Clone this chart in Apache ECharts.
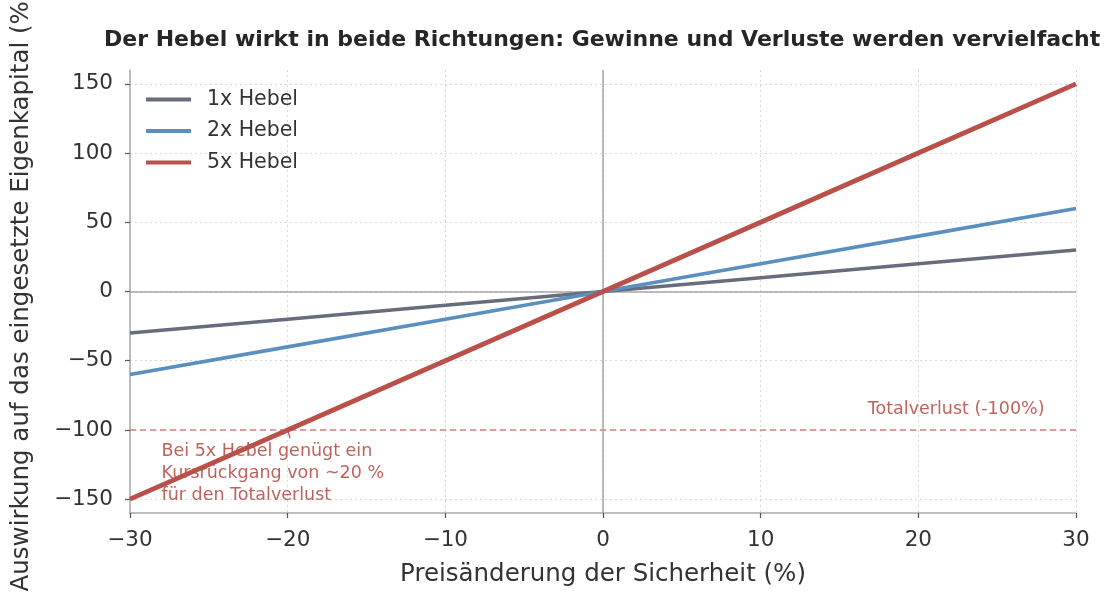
<!DOCTYPE html>
<html>
<head>
<meta charset="utf-8">
<script src="https://cdn.jsdelivr.net/npm/echarts@6/dist/echarts.min.js"></script>
<style>html,body{margin:0;padding:0;background:#fff}#c{width:1113px;height:601px}</style>
</head>
<body>
<div id="c"></div>
<script>
const priceChange = [-30, -20, -10, 0, 10, 20, 30];
const lev1 = [-30, -20, -10, 0, 10, 20, 30];
const lev2 = [-60, -40, -20, 0, 20, 40, 60];
const lev5 = [-150, -100, -50, 0, 50, 100, 150];
const seriesNames = ['1x Hebel', '2x Hebel', '5x Hebel'];
const xTicks = [-30, -20, -10, 0, 10, 20, 30];
const yTicks = [-150, -100, -50, 0, 50, 100, 150];
const totalLoss = -100;
const annoText = 'Bei 5x Hebel genügt ein\nKursrückgang von ~20 %\nfür den Totalverlust';
const annoPos = [-28, -107.5];
const annoTarget = [-20, -100];
const annoTail = [-19.85, -106];
const lossLabel = 'Totalverlust (-100%)';
const lossLabelPos = [28, -92];

const FONT = 'DejaVu Sans';
const RED = '#b9514a';
const fmt = v => String(v).replace('-', '\u2212');
const pairs = arr => priceChange.map((x, i) => [x, arr[i]]);

const chart = echarts.init(document.getElementById('c'), null, {renderer: 'canvas'});
chart.setOption({
  animation: false,
  backgroundColor: '#fff',
  textStyle: {fontFamily: FONT},
  title: {
    text: 'Der Hebel wirkt in beide Richtungen: Gewinne und Verluste werden vervielfacht',
    left: 99, top: 24,
    textStyle: {fontFamily: FONT, fontSize: 22, fontWeight: 'bold', color: '#262626'}
  },
  legend: {
    left: 141, top: 84, orient: 'vertical',
    icon: 'rect', itemWidth: 45, itemHeight: 4, itemGap: 10.5,
    textStyle: {fontFamily: FONT, fontSize: 20.5, color: '#333', padding: [0, 0, 0, 11]},
    data: seriesNames
  },
  grid: {left: 130, right: 37, top: 70, bottom: 88, containLabel: false, outerBoundsMode: 'none'},
  xAxis: {
    type: 'value', min: -30, max: 30, interval: 10,
    name: 'Preisänderung der Sicherheit (%)', nameLocation: 'middle', nameGap: 49,
    nameTextStyle: {fontFamily: FONT, fontSize: 24.5, color: '#333'},
    axisLine: {show: true, onZero: false, lineStyle: {color: '#aaa', width: 1.5}},
    axisTick: {show: true, length: 5, lineStyle: {color: '#555', width: 1.2}},
    axisLabel: {fontFamily: FONT, fontSize: 21.5, color: '#333', margin: 16, formatter: fmt},
    splitLine: {show: true, lineStyle: {color: '#d8d8d8', type: [2, 3], width: 1}}
  },
  yAxis: {
    type: 'value', min: -160, max: 160,
    name: 'Auswirkung auf das eingesetzte Eigenkapital (%)', nameLocation: 'middle', nameGap: 96,
    nameTextStyle: {fontFamily: FONT, fontSize: 24.5, color: '#333'},
    axisLine: {show: true, onZero: false, lineStyle: {color: '#aaa', width: 1.5}},
    axisTick: {show: true, length: 5, customValues: yTicks, lineStyle: {color: '#555', width: 1.2}},
    axisLabel: {fontFamily: FONT, fontSize: 21.5, color: '#333', margin: 17, customValues: yTicks, formatter: fmt},
    splitLine: {show: true, lineStyle: {color: '#d8d8d8', type: [2, 3], width: 1}}
  },
  series: [
    {
      name: seriesNames[0], type: 'line', data: pairs(lev1), symbol: 'none', showSymbol: false, z: 3,
      lineStyle: {color: '#676d7c', width: 3.5}, itemStyle: {color: '#676d7c'},
      markLine: {
        silent: true, symbol: 'none', z: 1, animation: false,
        label: {show: false},
        data: [
          {xAxis: 0, lineStyle: {color: '#a6a6a6', width: 1.5, type: 'solid'}},
          {yAxis: 0, lineStyle: {color: '#a6a6a6', width: 1.5, type: 'solid'}},
          {yAxis: totalLoss, lineStyle: {color: '#d0837d', width: 1.5, type: [6, 4]}}
        ]
      },
      markPoint: {
        silent: true, z: 2, animation: false, symbolSize: 0,
        data: [
          {coord: annoPos, symbol: 'circle', symbolSize: 0,
           label: {show: true, formatter: annoText, position: [0, 0], align: 'left', verticalAlign: 'top',
                   fontFamily: FONT, fontSize: 17.5, lineHeight: 22, color: RED, opacity: 0.9}},
          {coord: lossLabelPos, symbol: 'circle', symbolSize: 0,
           label: {show: true, formatter: lossLabel, position: [0, 0], align: 'right', verticalAlign: 'bottom',
                   fontFamily: FONT, fontSize: 17.5, color: RED, opacity: 0.9}}
        ]
      }
    },
    {
      name: seriesNames[1], type: 'line', data: pairs(lev2), symbol: 'none', showSymbol: false, z: 4,
      lineStyle: {color: '#5b8fbf', width: 3.6}, itemStyle: {color: '#5b8fbf'}
    },
    {
      name: seriesNames[2], type: 'line', data: pairs(lev5), symbol: 'none', showSymbol: false, z: 6,
      lineStyle: {color: RED, width: 4.8}, itemStyle: {color: RED},
      markLine: {
        silent: true, z: 5, animation: false, symbol: ['none', 'arrow'], symbolSize: [0, 8],
        label: {show: false},
        lineStyle: {color: RED, width: 1.2, type: 'solid'},
        data: [[{coord: annoTail}, {coord: annoTarget}]]
      }
    }
  ]
});
</script>
</body>
</html>
